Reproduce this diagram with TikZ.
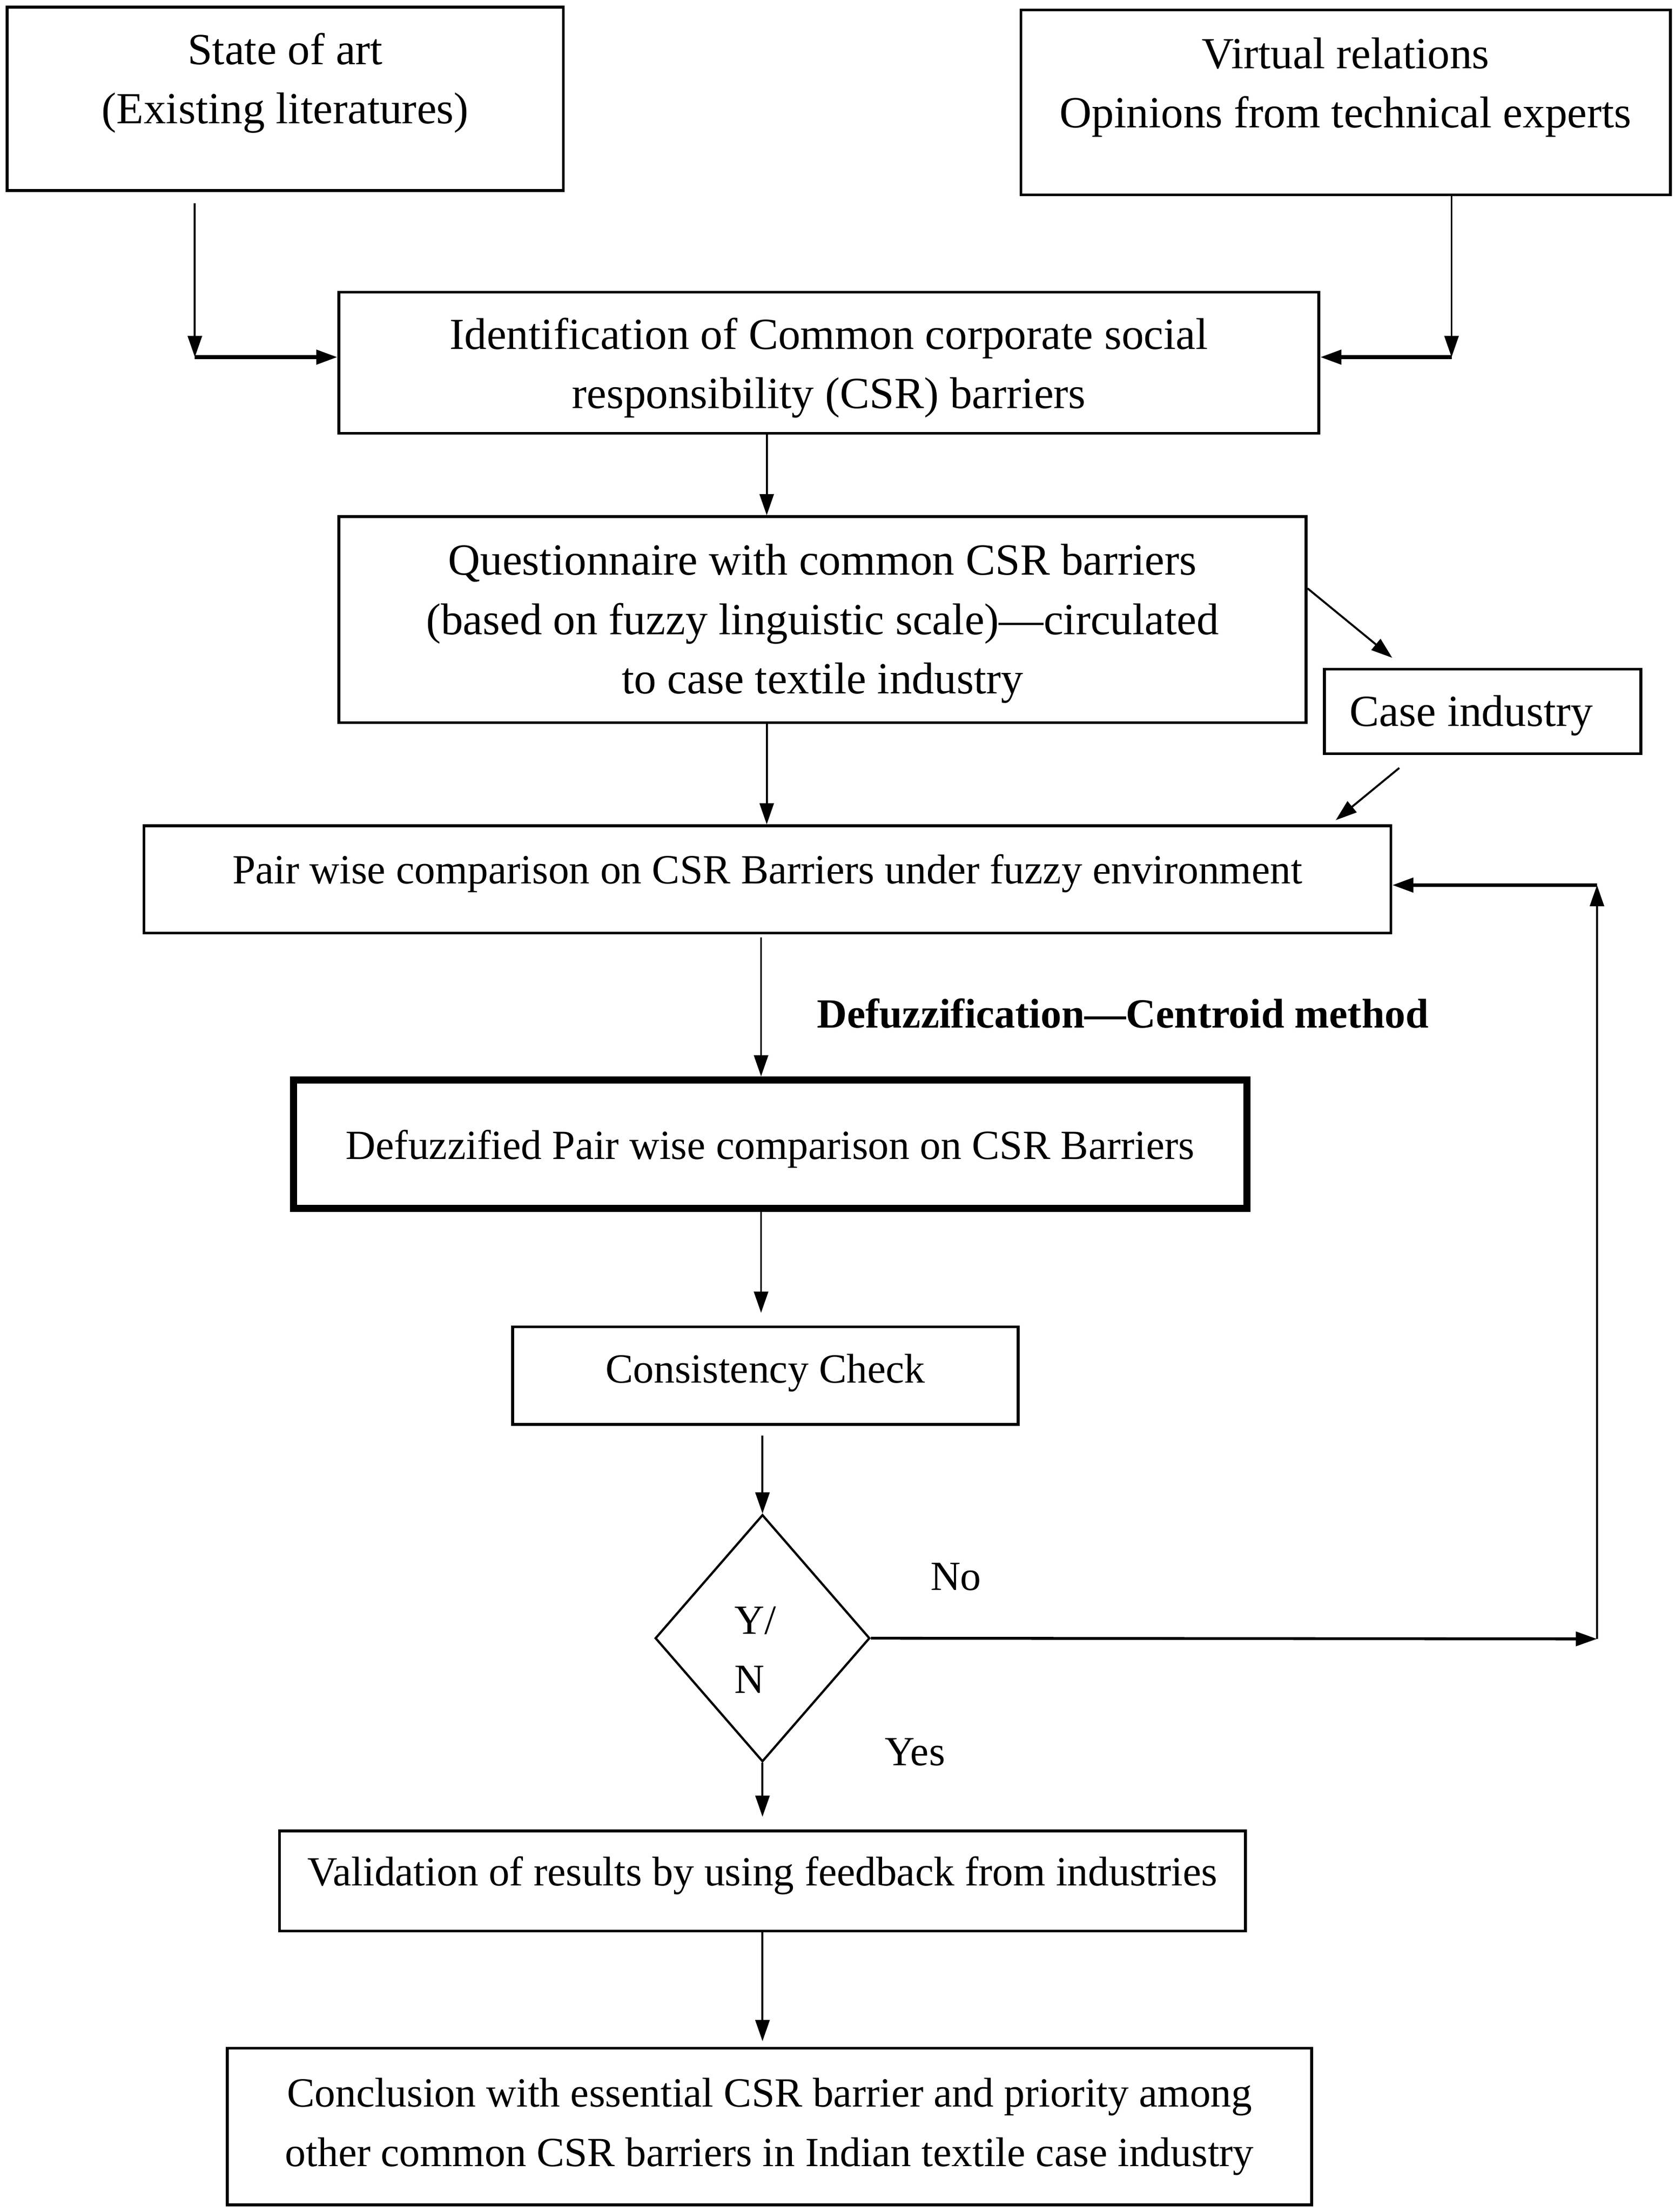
\documentclass[tikz,border=0pt]{standalone}
\usepackage{fontspec}
\setmainfont{Liberation Serif}
\usetikzlibrary{arrows.meta,shapes.geometric,calc}

\tikzset{every picture/.style={line width=1.4pt}}
\tikzset{
	box/.style={draw, rectangle, line width=2pt, align=center, inner sep=0pt, font=\fontsize{31.5}{42}\selectfont},
	lower/.style={font=\fontsize{29.4}{42}\selectfont},
	thickbox/.style={box, lower, line width=5pt},
	decide/.style={draw, diamond, line width=1.6pt, align=left, inner sep=0pt, lower},
	arr/.style={-{Triangle[length=15pt,width=10pt]}, line width=1.4pt},
	thickarr/.style={arr, line width=2.6pt},
	lbl/.style={inner sep=0pt, lower}
}

\begin{document}
\begin{tikzpicture}[x=1pt,y=-1pt]
	\useasboundingbox (0,0) rectangle (1186,1567);

	% Boxes
	\node [box, minimum width=394pt, minimum height=130pt, text depth=29pt] (sota) at (202,70) {State of art\\(Existing literatures)};
	\node [box, minimum width=460pt, minimum height=131pt, text depth=28pt] (virt) at (953,72.5) {Virtual relations\\Opinions from technical experts};
	\node [box, minimum width=694pt, minimum height=100pt, text height=71.5pt] (ident) at (587,257) {Identification of Common corporate social\\responsibility (CSR) barriers};
	\node [box, minimum width=685pt, minimum height=146pt, text height=111.5pt] (quest) at (582.5,439) {Questionnaire with common CSR barriers\\(based on fuzzy linguistic scale)—circulated\\to case textile industry};
	\node [box, minimum width=224pt, minimum height=60pt, text height=27.5pt] (case) at (1050,504) {Case industry\hspace*{16pt}};
	\node [box, lower, minimum width=883pt, minimum height=76pt, text depth=15pt] (pair) at (543.5,623) {Pair wise comparison on CSR Barriers under fuzzy environment};
	\node [thickbox, minimum width=675pt, minimum height=91pt, text height=28pt] (defz) at (545.5,810.5) {Defuzzified Pair wise comparison on CSR Barriers};
	\node [box, lower, minimum width=358pt, minimum height=69pt, text depth=10pt] (cons) at (542,974.5) {Consistency Check};
	\node [decide, minimum width=152pt, minimum height=175pt, text height=78pt] (yn) at (540,1160.5) {Y/\hspace*{10pt}\\N};
	\node [box, lower, minimum width=684pt, minimum height=71pt, text depth=14pt] (valid) at (540,1332.5) {Validation of results by using feedback from industries};
	\node [box, lower, minimum width=768pt, minimum height=111pt] (concl) at (545,1506.5) {Conclusion with essential CSR barrier and priority among\\other common CSR barriers in Indian textile case industry};

	% Text Node
	\node [lbl, anchor=west, font=\bfseries\fontsize{29.4}{36}\selectfont] (defm) at (578,718) {Defuzzification—Centroid method};
	\node [lbl] (no) at (677,1117) {No};
	\node [lbl] (yes) at (648,1241) {Yes};

	% Corners and spines
	\coordinate (lc) at (138,253);
	\coordinate (rc) at (1028,253);
	\coordinate (sp) at (543,0);
	\coordinate (sq) at (539,0);
	\coordinate (fb) at (1131,1161);
	\coordinate (ft) at (1131,627);

	% Arrows
	\draw [arr] ($(sota.south -| lc)+(0,8)$) -- (lc);
	\draw [thickarr] (lc) -- (lc -| ident.west);
	\draw [arr] (virt.south -| rc) -- (rc);
	\draw [thickarr] (rc) -- (rc -| ident.east);
	\draw [arr] (ident.south -| sp) -- (quest.north -| sp);
	\draw [arr] ($(quest.north east)!0.35!(quest.south east)$) -- ($(case.north west)+(49,-7)$);
	\draw [arr] ($(case.south west)+(54,9)$) -- ($(pair.north east)+(-40,-3)$);
	\draw [arr] (quest.south -| sp) -- (pair.north -| sp);
	\draw [arr] ($(pair.south -| sq)+(0,2)$) -- (defz.north -| sq);
	\draw [arr] (defz.south -| sq) -- ($(cons.north -| sq)+(0,-9)$);
	\draw [arr] ($(cons.south -| yn)+(0,7)$) -- (yn.north);
	\draw [arr, line width=2pt] (yn.east) -- (fb);
	\draw [arr] (fb) -- (ft);
	\draw [thickarr] (ft) -- (ft -| pair.east);
	\draw [arr] (yn.south) -- ($(valid.north)+(0,-9)$);
	\draw [arr] (valid.south) -- ($(concl.north -| valid)+(0,-4)$);
\end{tikzpicture}
\end{document}
